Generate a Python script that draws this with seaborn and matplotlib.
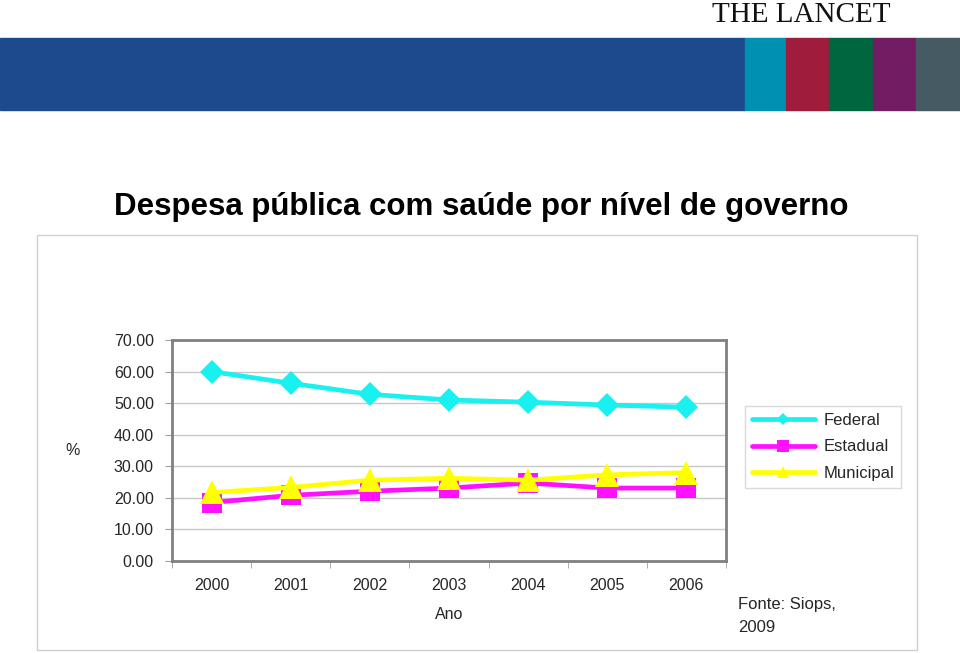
import numpy as np
import pandas as pd
import matplotlib
matplotlib.use("Agg")
import matplotlib.pyplot as plt
from matplotlib.lines import Line2D
from matplotlib.patches import Rectangle
import seaborn as sns

# dados
anos = ["2000", "2001", "2002", "2003", "2004", "2005", "2006"]
federal = [60.0, 56.3, 52.8, 51.0, 50.3, 49.4, 48.7]
estadual = [18.5, 20.8, 22.1, 23.1, 24.7, 23.1, 23.1]
municipal = [21.7, 23.3, 25.6, 26.2, 25.6, 27.3, 28.0]
yticks = [0, 10, 20, 30, 40, 50, 60, 70]

sns.set_style("white")
plt.rcParams["font.family"] = ["Liberation Sans", "DejaVu Sans"]

df = pd.DataFrame({"Ano": anos * 3,
                   "valor": federal + estadual + municipal,
                   "serie": ["Federal"] * 7 + ["Estadual"] * 7 + ["Municipal"] * 7})

cores = {"Federal": "#19f0f0", "Estadual": "#ff10ff", "Municipal": "#ffff00"}
marcadores = {"Federal": ("D", 12.5), "Estadual": ("s", 15), "Municipal": ("^", 17)}

fig = plt.figure(figsize=(9.6, 6.53), dpi=100)

# cabeçalho tipo slide
fig.text(890 / 960, 1 - 22 / 653, "THE LANCET", ha="right", va="baseline",
         family="Liberation Serif", fontsize=21, color="#111111")
faixas = [(0, 745, "#1d4a8c"), (745, 786, "#0090b2"), (786, 829, "#a01c3c"),
          (829, 873, "#00663f"), (873, 916, "#721c64"), (916, 960, "#465a64")]
for x0, x1, c in faixas:
    fig.patches.append(Rectangle((x0 / 960, 1 - 110 / 653), (x1 - x0) / 960, 72 / 653,
                                 transform=fig.transFigure, color=c, zorder=0))

fig.text(481 / 960, 1 - 207 / 653, "Despesa pública com saúde por nível de governo",
         ha="center", va="center", fontsize=22.5, fontweight="bold", color="black")

# moldura externa do gráfico
fig.patches.append(Rectangle((37 / 960, 1 - 650 / 653), 880 / 960, 415 / 653,
                             transform=fig.transFigure, fill=False,
                             edgecolor="#d0d0d0", linewidth=1))

ax = fig.add_axes([172 / 960, 92 / 653, 554 / 960, 221 / 653])
for nome in ["Federal", "Estadual", "Municipal"]:
    m, ms = marcadores[nome]
    sns.lineplot(data=df[df["serie"] == nome], x="Ano", y="valor", ax=ax,
                 color=cores[nome], linewidth=3.4, marker=m, markersize=ms,
                 markeredgewidth=0, legend=False, zorder=3)

ax.set_xlim(-0.5, len(anos) - 0.5)
ax.set_ylim(0, 70)
ax.set_yticks(yticks)
ax.set_yticklabels([f"{v:.2f}" for v in yticks])
ax.yaxis.grid(True, color="#c8c8c8", linewidth=1)
ax.set_axisbelow(True)
for s in ax.spines.values():
    s.set_color("#808080")
    s.set_linewidth(2)
ax.set_xticks(range(len(anos)))
ax.set_xticklabels(anos)
ax.set_xticks(np.arange(-0.5, len(anos), 1), minor=True)
ax.tick_params(axis="x", which="major", length=0, pad=12, labelsize=11.5)
ax.tick_params(axis="x", which="minor", length=5, color="#a0a0a0", bottom=True)
ax.tick_params(axis="y", length=5, color="#a0a0a0", pad=8, labelsize=11.5, left=True)
ax.set_xlabel("Ano", fontsize=11.5, labelpad=10)
ax.set_ylabel("%", fontsize=11.5, rotation=0, va="center", ha="center")
ax.yaxis.set_label_coords(-0.18, 0.5)

handles = [Line2D([], [], color=cores[n], linewidth=3.4, marker=marcadores[n][0],
                  markersize={"Federal": 6, "Estadual": 9, "Municipal": 8}[n],
                  markeredgewidth=0, label=n)
           for n in ["Federal", "Estadual", "Municipal"]]
fig.legend(handles=handles, loc="upper left",
           bbox_to_anchor=(745 / 960, 1 - 406 / 653), frameon=True, fancybox=False,
           edgecolor="#d0d0d0", fontsize=12, handlelength=3.8, handletextpad=0.5,
           labelspacing=0.7, borderpad=0.4, borderaxespad=0)

fig.text(738 / 960, 1 - 605 / 653, "Fonte: Siops,", fontsize=12, va="center")
fig.text(738 / 960, 1 - 628 / 653, "2009", fontsize=12, va="center")

fig.savefig("out.png", dpi=100)
